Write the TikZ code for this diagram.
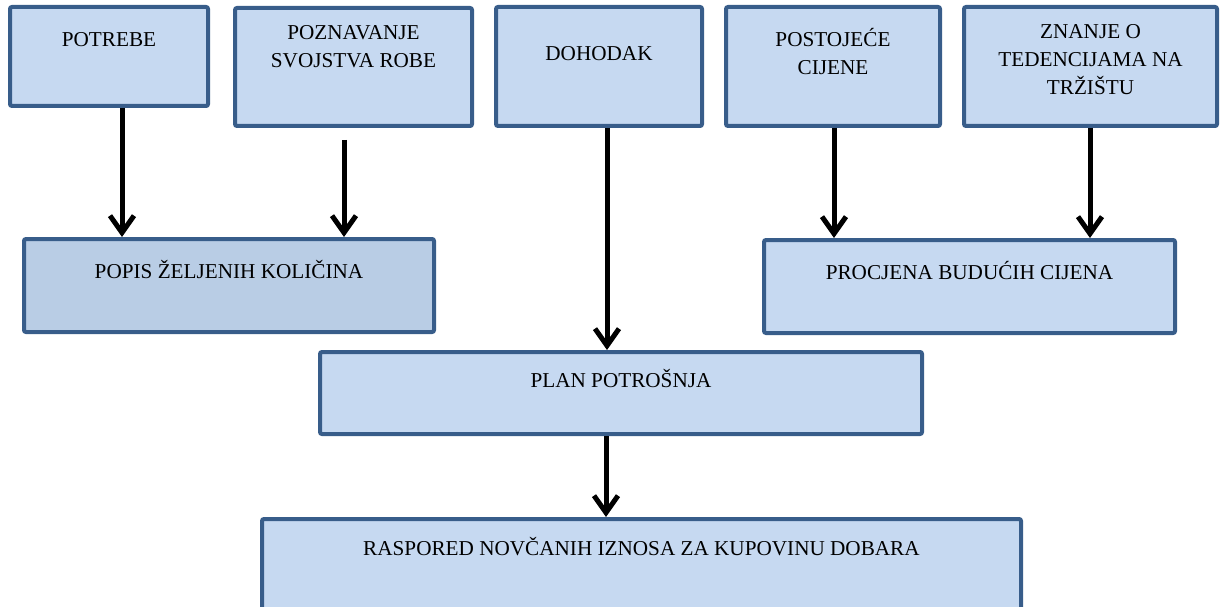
\documentclass[tikz,border=0pt]{standalone}
\usepackage{fontspec}
\setmainfont{Liberation Serif}
\usepackage{tikz}
\usetikzlibrary{arrows.meta}

\definecolor{boxborder}{RGB}{56,93,138}
\definecolor{boxfill}{RGB}{198,217,241}
\definecolor{boxfilldark}{RGB}{185,205,229}
\newcommand{\diagfont}{\fontsize{21.2}{28}\selectfont}

\begin{document}
\begin{tikzpicture}[
    x=1pt, y=-1pt,
    infobox/.style={
        rectangle, rounded corners=2pt,
        draw=boxborder, line width=4pt,
        fill=boxfill,
        inner sep=0pt,
        align=center,
        font=\diagfont
    },
    flow/.style={
        -{Straight Barb[length=17pt,width=24pt]},
        line width=5pt
    }
]
\useasboundingbox (0,0) rectangle (1221,607);

% top row
\node[infobox, minimum width=198pt, text height=40pt, text depth=59pt] (pot) at (109,56.5) {POTREBE};
\node[infobox, minimum width=237pt, text height=60pt, text depth=58pt] (poz) at (353.5,67) {POZNAVANJE\\SVOJSTVA ROBE};
\node[infobox, minimum width=206pt, text height=54pt, text depth=65pt] (doh) at (599,66.5) {DOHODAK};
\node[infobox, minimum width=214pt, text height=68pt, text depth=51pt] (pos) at (833,66.5) {POSTOJEĆE\\CIJENE};
\node[infobox, minimum width=253pt, text height=88pt, text depth=31pt] (zna) at (1090.5,66.5) {ZNANJE O\\TEDENCIJAMA NA\\TRŽIŠTU};

% middle
\node[infobox, fill=boxfilldark, minimum width=410pt, text height=39pt, text depth=54pt] (pop) at (229,285.5) {POPIS ŽELJENIH KOLIČINA};
\node[infobox, minimum width=411pt, text height=39pt, text depth=54pt] (pro) at (969.5,286.5) {PROCJENA BUDUĆIH CIJENA};
\node[infobox, minimum width=602pt, text height=35pt, text depth=47pt] (pla) at (621,393) {PLAN POTROŠNJA};

% bottom
\node[infobox, minimum width=759pt, text height=36pt, text depth=59pt] (ras) at (641.5,566.5) {RASPORED NOVČANIH IZNOSA ZA KUPOVINU DOBARA};

\draw[flow] (pot.south -| 122,0) -- (pop.north -| 122,0);
\draw[flow, shorten <=12pt] (poz.south -| 344,0) -- (pop.north -| 344,0);
\draw[flow] (doh.south -| 607,0) -- (pla.north -| 607,0);
\draw[flow] (pos.south -| 834,0) -- (pro.north -| 834,0);
\draw[flow] (zna.south -| 1090,0) -- (pro.north -| 1090,0);
\draw[flow] (pla.south -| 606,0) -- (ras.north -| 606,0);

\end{tikzpicture}
\end{document}
